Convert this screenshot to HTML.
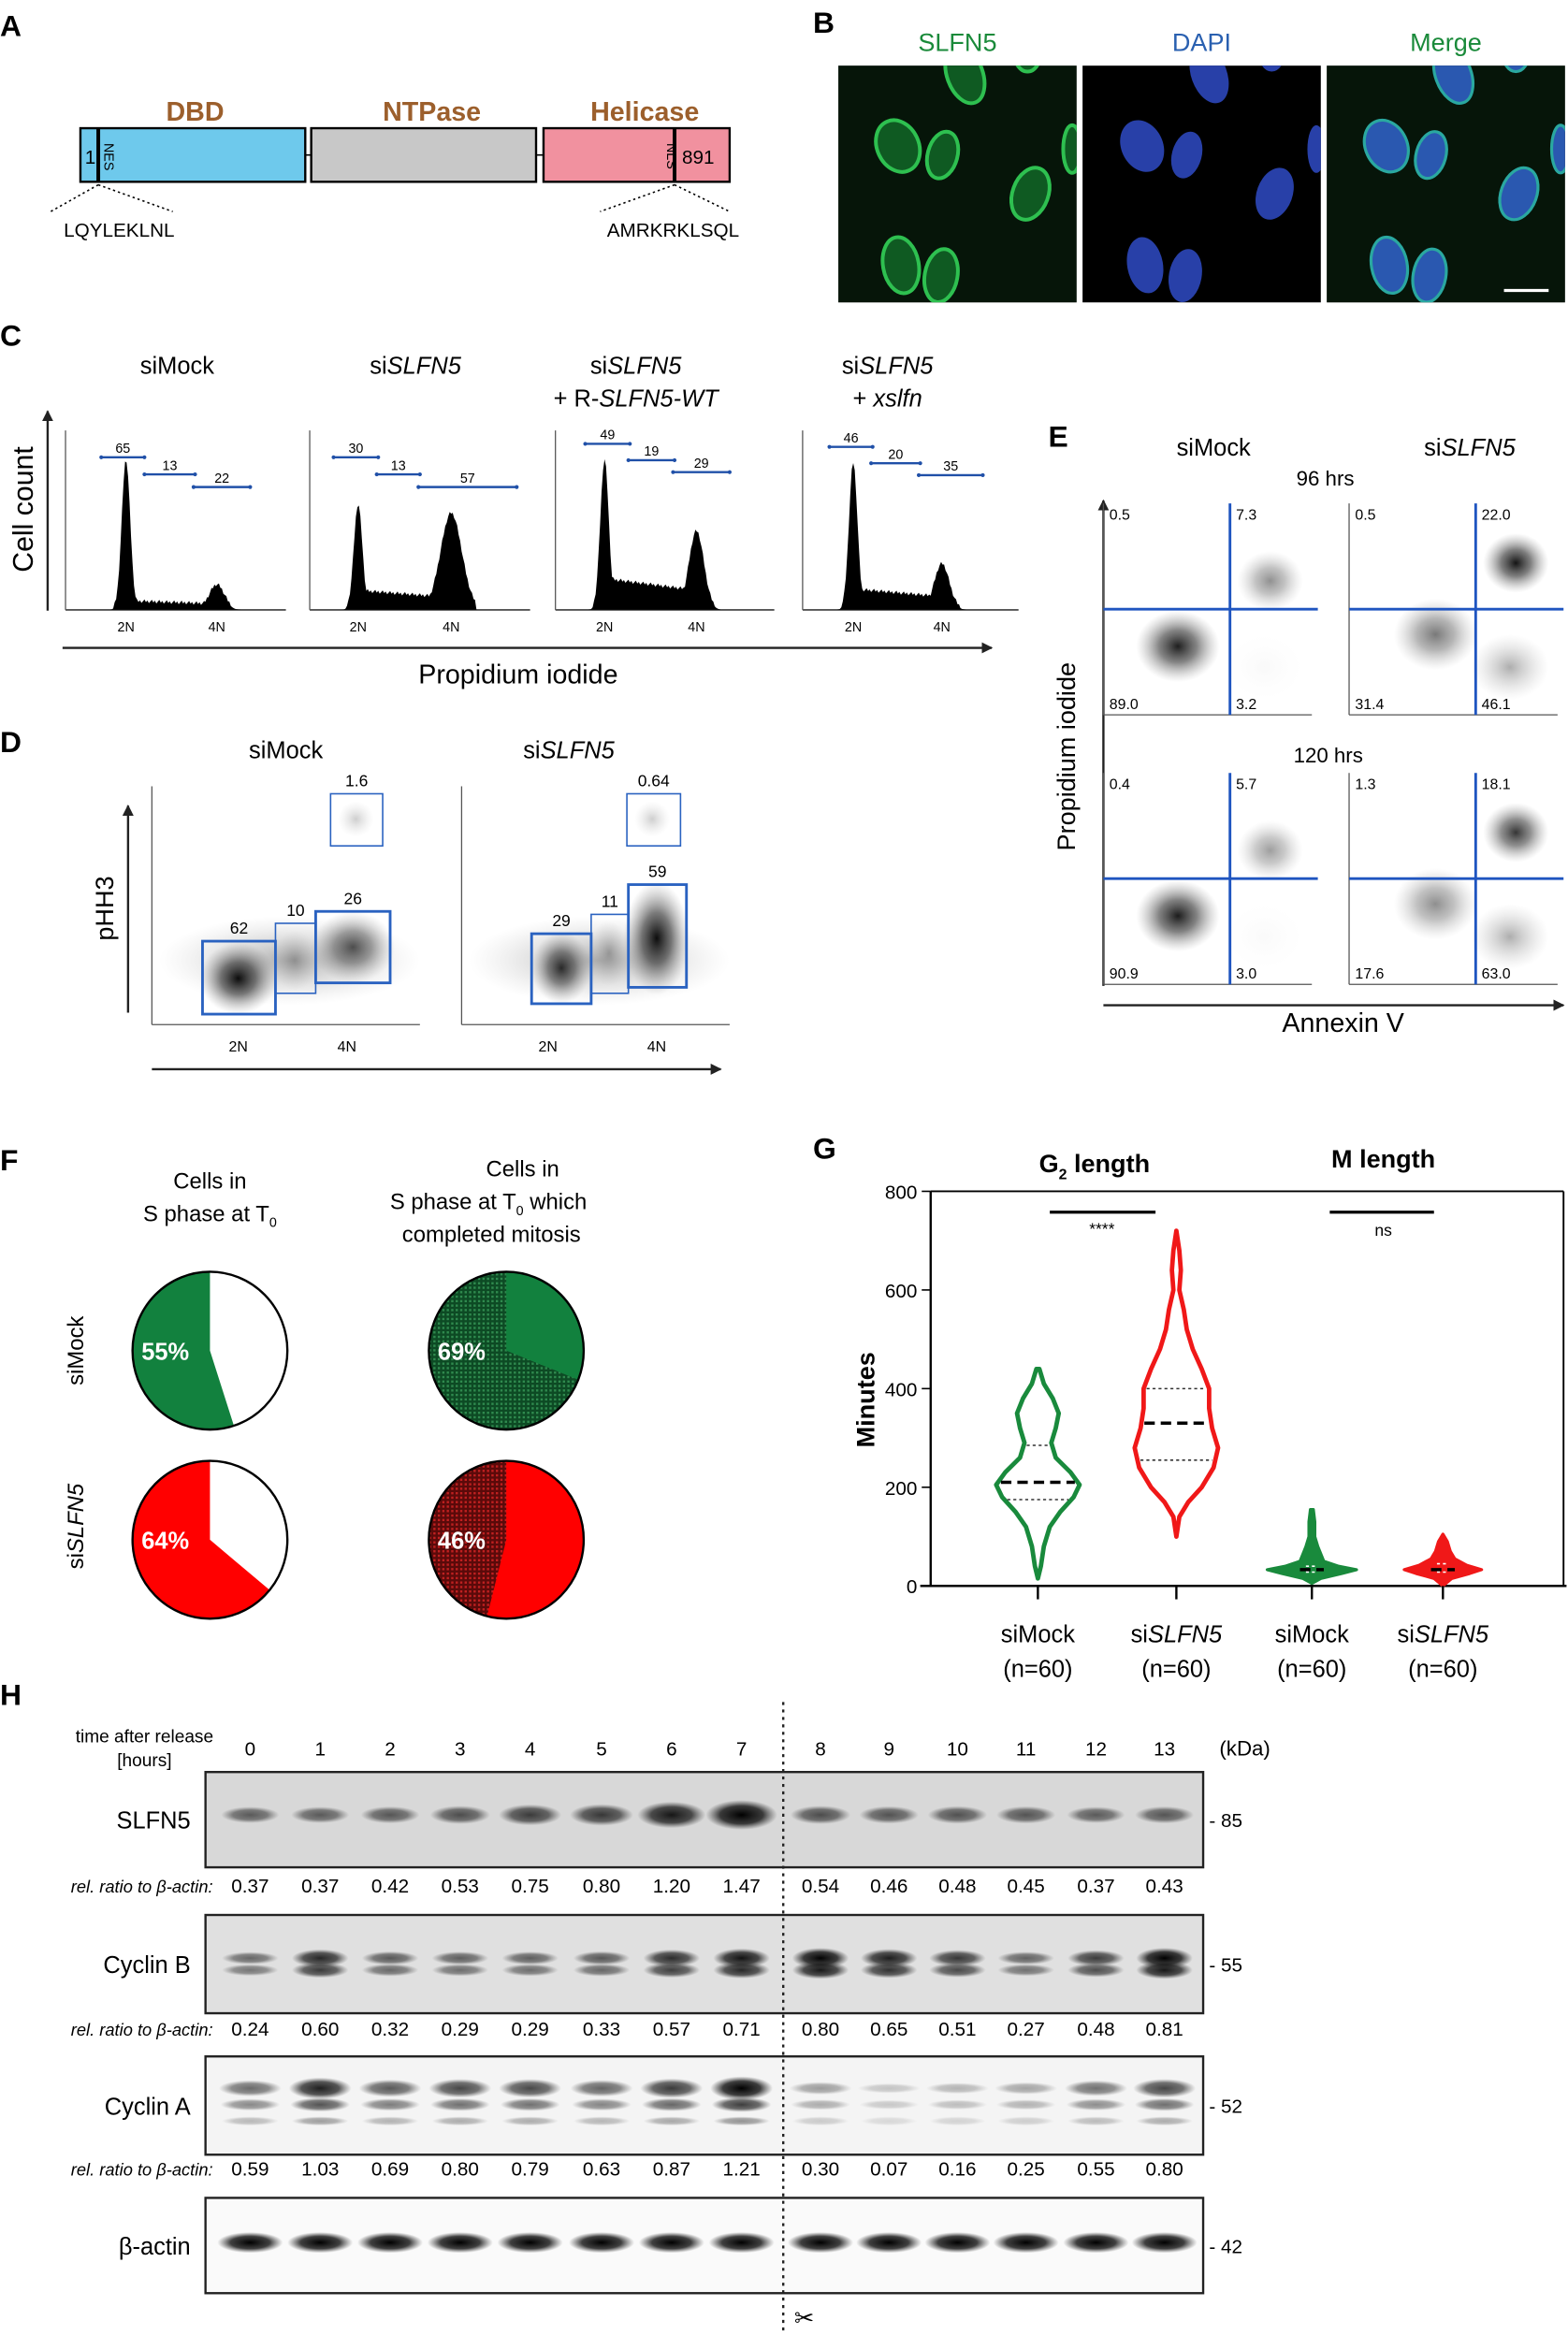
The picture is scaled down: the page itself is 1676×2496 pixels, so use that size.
<!DOCTYPE html>
<html><head><meta charset="utf-8">
<style>
html,body{margin:0;padding:0;background:#fff;}
svg{display:block;font-family:"Liberation Sans",Arial,sans-serif;}
</style></head>
<body>
<svg id="fig" width="1676" height="2496" viewBox="0 0 1053 1568" xmlns="http://www.w3.org/2000/svg">
<defs>
<radialGradient id="blob" cx="50%" cy="50%" r="50%">
<stop offset="0" stop-color="#000" stop-opacity="0.95"/>
<stop offset="0.45" stop-color="#222" stop-opacity="0.6"/>
<stop offset="1" stop-color="#888" stop-opacity="0"/>
</radialGradient>
<radialGradient id="blobLight" cx="50%" cy="50%" r="50%">
<stop offset="0" stop-color="#777" stop-opacity="0.6"/>
<stop offset="1" stop-color="#bbb" stop-opacity="0"/>
</radialGradient>
<radialGradient id="band" cx="50%" cy="50%" r="50%">
<stop offset="0" stop-color="#000" stop-opacity="1"/>
<stop offset="0.6" stop-color="#111" stop-opacity="0.8"/>
<stop offset="1" stop-color="#333" stop-opacity="0"/>
</radialGradient>
<pattern id="hatchG" width="3" height="3" patternUnits="userSpaceOnUse"><rect width="3" height="3" fill="#0d4a24"/><rect width="1.5" height="1.5" fill="#2f8a4e"/></pattern>
<pattern id="hatchR" width="3" height="3" patternUnits="userSpaceOnUse"><rect width="3" height="3" fill="#5a0a0a"/><rect width="1.5" height="1.5" fill="#c02020"/></pattern>
<marker id="arr" viewBox="0 0 10 10" refX="9" refY="5" markerWidth="5" markerHeight="5" orient="auto"><path d="M0,0L10,5L0,10z" fill="#222"/></marker>
</defs>

<!-- Panel A -->
<g>
<text x="0" y="24" font-size="20" font-weight="bold">A</text>
<text x="131" y="81" font-size="18" font-weight="bold" fill="#9c5f2c" text-anchor="middle">DBD</text>
<text x="290" y="81" font-size="18" font-weight="bold" fill="#9c5f2c" text-anchor="middle">NTPase</text>
<text x="433" y="81" font-size="18" font-weight="bold" fill="#9c5f2c" text-anchor="middle">Helicase</text>
<line x1="204" y1="104" x2="210" y2="104" stroke="#000"/><line x1="359" y1="104" x2="366" y2="104" stroke="#000"/>
<rect x="54" y="86" width="151" height="36" fill="#6ec9ec" stroke="#000" stroke-width="1.5"/>
<rect x="209" y="86" width="151" height="36" fill="#c8c8c8" stroke="#000" stroke-width="1.5"/>
<rect x="365" y="86" width="125" height="36" fill="#f1919f" stroke="#000" stroke-width="1.5"/>
<line x1="66" y1="86" x2="66" y2="122" stroke="#000" stroke-width="2.5"/>
<line x1="453" y1="86" x2="453" y2="122" stroke="#000" stroke-width="2.5"/>
<text x="57" y="110" font-size="13">1</text>
<text x="458" y="110" font-size="13">891</text>
<text transform="translate(70,96) rotate(90)" font-size="9">NES</text>
<text transform="translate(448,96) rotate(90)" font-size="9">NLS</text>
<path d="M66,124 L34,142 M66,124 L116,142 M453,124 L403,142 M453,124 L490,142" stroke="#000" stroke-dasharray="1.5,2" fill="none"/>
<text x="80" y="159" font-size="13" text-anchor="middle">LQYLEKLNL</text>
<text x="452" y="159" font-size="13" text-anchor="middle">AMRKRKLSQL</text>
</g>

<!-- Panel B -->
<g>
<text x="546" y="22" font-size="20" font-weight="bold">B</text>
<text x="643" y="34" font-size="17" fill="#1a8a3a" text-anchor="middle">SLFN5</text>
<text x="807" y="34" font-size="17" fill="#2a60b0" text-anchor="middle">DAPI</text>
<text x="971" y="34" font-size="17" fill="#1a8a3a" text-anchor="middle">Merge</text>
<g id="micro"></g>
</g>

<!-- Panel C -->
<g>
<text x="0" y="232" font-size="20" font-weight="bold">C</text>
<line x1="32" y1="410" x2="32" y2="276" stroke="#222" stroke-width="1.5" marker-end="url(#arr)"/>
<text transform="translate(22,342) rotate(-90)" font-size="19" text-anchor="middle">Cell count</text>
<line x1="42" y1="435" x2="666" y2="435" stroke="#222" stroke-width="1.5" marker-end="url(#arr)"/>
<text x="348" y="459" font-size="18" text-anchor="middle">Propidium iodide</text>
<g id="hist"></g>
</g>

<!-- Panel D -->
<g>
<text x="0" y="505" font-size="20" font-weight="bold">D</text>
<text x="192" y="509" font-size="16" text-anchor="middle">siMock</text>
<text x="382" y="509" font-size="16" text-anchor="middle">si<tspan font-style="italic">SLFN5</tspan></text>
<line x1="86" y1="680" x2="86" y2="541" stroke="#222" stroke-width="1.5" marker-end="url(#arr)"/>
<text transform="translate(76,610) rotate(-90)" font-size="17" text-anchor="middle">pHH3</text>
<line x1="102" y1="718" x2="484" y2="718" stroke="#222" stroke-width="1.5" marker-end="url(#arr)"/>
<g id="dplots"></g>
</g>

<!-- Panel E -->
<g>
<text x="704" y="300" font-size="20" font-weight="bold">E</text>
<text x="815" y="306" font-size="16" text-anchor="middle">siMock</text>
<text x="987" y="306" font-size="16" text-anchor="middle">si<tspan font-style="italic">SLFN5</tspan></text>
<text x="890" y="326" font-size="14" text-anchor="middle">96 hrs</text>
<text x="892" y="512" font-size="14" text-anchor="middle">120 hrs</text>
<line x1="741" y1="662" x2="741" y2="336" stroke="#222" stroke-width="1.5" marker-end="url(#arr)"/>
<text transform="translate(722,508) rotate(-90)" font-size="17" text-anchor="middle">Propidium iodide</text>
<line x1="741" y1="675" x2="1050" y2="675" stroke="#222" stroke-width="1.5" marker-end="url(#arr)"/>
<text x="902" y="693" font-size="18" text-anchor="middle">Annexin V</text>
<g id="eplots"></g>
</g>

<!-- Panel F -->
<g>
<text x="0" y="786" font-size="20" font-weight="bold">F</text>
<text x="141" y="798" font-size="15" text-anchor="middle">Cells in</text>
<text x="141" y="820" font-size="15" text-anchor="middle">S phase at T<tspan font-size="9" dy="4">0</tspan></text>
<text x="351" y="790" font-size="15" text-anchor="middle">Cells in</text>
<text x="328" y="812" font-size="15" text-anchor="middle">S phase at T<tspan font-size="9" dy="4">0</tspan><tspan dy="-4"> which</tspan></text>
<text x="330" y="834" font-size="15" text-anchor="middle">completed mitosis</text>
<text transform="translate(56,907) rotate(-90)" font-size="15" text-anchor="middle">siMock</text>
<text transform="translate(56,1025) rotate(-90)" font-size="15" text-anchor="middle">si<tspan font-style="italic">SLFN5</tspan></text>
<g id="pies"></g>
</g>

<!-- Panel G -->
<g>
<text x="546" y="778" font-size="20" font-weight="bold">G</text>
<text x="735" y="787" font-size="17" font-weight="bold" text-anchor="middle">G<tspan font-size="10" dy="5">2</tspan><tspan dy="-5"> length</tspan></text>
<text x="929" y="784" font-size="17" font-weight="bold" text-anchor="middle">M length</text>
<text transform="translate(587,940) rotate(-90)" font-size="17" font-weight="bold" text-anchor="middle">Minutes</text>
<g id="violin"></g>
</g>

<!-- Panel H -->
<g>
<text x="0" y="1145" font-size="20" font-weight="bold">H</text>
<text x="97" y="1170" font-size="12" text-anchor="middle">time after release</text>
<text x="97" y="1186" font-size="12" text-anchor="middle">[hours]</text>
<text x="836" y="1179" font-size="14" text-anchor="middle">(kDa)</text>
<g id="blots"></g>
<line x1="526" y1="1143" x2="526" y2="1566" stroke="#222" stroke-width="1.5" stroke-dasharray="2,3"/>
<text x="540" y="1562" font-size="16" text-anchor="middle">✂</text>
</g>
</svg>

<script>
const NS='http://www.w3.org/2000/svg';
function mk(tag,attrs,parent,txt){const e=document.createElementNS(NS,tag);for(const k in attrs)e.setAttribute(k,attrs[k]);if(txt!==undefined)e.textContent=txt;parent.appendChild(e);return e;}

// ===== Panel B microscopy (image, not data) =====
const microPanelsX=[563,727,891];
const nuclei=[[648,70,12,20,-20],[690,55,9,13,0],[603,118,14,18,-25],[633,124,10,16,15],[692,150,12,18,20],[605,198,12,19,-10],[632,205,11,18,10],[720,120,6,16,0]];
(function(){
 const g=document.getElementById('micro');
 microPanelsX.forEach((x0,pi)=>{
  const grp=mk('g',{},g);
  
  
  mk('rect',{x:x0,y:44,width:160,height:159,fill:'#000'},grp);
  const cp=mk('clipPath',{id:'cp'+pi},grp);mk('rect',{x:x0,y:44,width:160,height:159},cp);
  const inner=mk('g',{'clip-path':'url(#cp'+pi+')'},grp);
  if(pi!==1) mk('rect',{x:x0,y:44,width:160,height:159,fill:'#0b2a12',opacity:0.5},inner);
  nuclei.forEach(n=>{
   const cx=n[0]-563+x0, cy=n[1]-20;
   const t='rotate('+n[4]+' '+cx+' '+cy+')';
   if(pi===0){mk('ellipse',{cx,cy,rx:n[2],ry:n[3],fill:'#0f5a22',stroke:'#2ec050','stroke-width':2.5,transform:t},inner);}
   else if(pi===1){mk('ellipse',{cx,cy,rx:n[2],ry:n[3],fill:'#2840a8',transform:t},inner);}
   else {mk('ellipse',{cx,cy,rx:n[2],ry:n[3],fill:'#2a58b0',stroke:'#2aa8a0','stroke-width':2,transform:t},inner);}
  });
 });
 mk('line',{x1:1010,y1:195,x2:1040,y2:195,stroke:'#fff','stroke-width':2},g);
})();

// ===== Panel C histograms =====
const histTitles=['siMock','siSLFN5','siSLFN5','siSLFN5'];
const histSub=['','','+ R-SLFN5-WT','+ xslfn'];
const histG1Peak=[100,70,100,98];   // peak heights (counts, px-scaled)
const histSPlateau=[5,12,20,13];
const histG2Peak=[16,64,52,30];
const gateLabels=[[65,13,22],[30,13,57],[49,19,29],[46,20,35]];
(function(){
 const g=document.getElementById('hist');
 const base=409.5;
 const frames=[[44,192],[208,356],[373,520],[539,684]];
 const peaksX=[[84.6,145.6],[240.5,303],[406,467.7],[573,632.5]];
 const gateX=[[[68,97],[97,131],[130,168]],[[224,254],[253,282],[281,347]],[[393,423],[422,453],[452,490]],[[557,586],[585,618],[617,660]]];
 const gateY=[[307,318.5,327],[307,318.5,327],[298,309,317],[300,311,319]];
 const g2w=[7,10,7,7];
 frames.forEach((f,i)=>{
  const grp=mk('g',{},g);
  
  
  const tcx=[119,279,427,596][i];
  const t=mk('text',{x:tcx,y:251,'font-size':16,'text-anchor':'middle'},grp);
  if(i===0)t.textContent='siMock';else{t.textContent='si';mk('tspan',{'font-style':'italic'},t,'SLFN5');}
  if(i===2){const s=mk('text',{x:tcx,y:273,'font-size':16,'text-anchor':'middle'},grp,'+ R-');mk('tspan',{'font-style':'italic'},s,'SLFN5-WT');}
  if(i===3){const s=mk('text',{x:tcx,y:273,'font-size':16,'text-anchor':'middle'},grp,'+ ');mk('tspan',{'font-style':'italic'},s,'xslfn');}
  const left=f[0];
  mk('line',{x1:left,y1:289,x2:left,y2:base,stroke:'#555','stroke-width':0.8},grp);
  mk('line',{x1:left,y1:base,x2:f[1],y2:base,stroke:'#555','stroke-width':1.2},grp);
  const x2n=peaksX[i][0], x4n=peaksX[i][1];
  const xs=Math.round(x2n-14), xe=Math.round(x4n+22);
  let d='M'+xs+','+base;
  for(let x=xs;x<=xe;x+=1){
   const a=histG1Peak[i]*Math.exp(-Math.pow((x-x2n)/4,2));
   const b=histG2Peak[i]*Math.exp(-Math.pow((x-x4n)/g2w[i],2));
   const s=(x>x2n&&x<x4n)?histSPlateau[i]*(1-(x-x2n)/(x4n-x2n)*0.4):0;
   const jag=((x*7)%5)*0.6;
   let h=Math.max(a,b,s)+(Math.max(a,b,s)>2?jag:0);
   if(x>x4n+16||x<x2n-10) h=0;
   d+=' L'+x+','+(base-h).toFixed(1);
  }
  d+=' L'+xe+','+base+'Z';
  mk('path',{d,fill:'#000'},grp);
  mk('text',{x:x2n,y:424,'font-size':9,'text-anchor':'middle'},grp,'2N');
  mk('text',{x:x4n,y:424,'font-size':9,'text-anchor':'middle'},grp,'4N');
  gateLabels[i].forEach((v,k)=>{
   const y=gateY[i][k];
   const x1=gateX[i][k][0], x2=gateX[i][k][1];
   mk('line',{x1,y1:y,x2,y2:y,stroke:'#2050a8','stroke-width':1.5},grp);
   mk('circle',{cx:x1,cy:y,r:1.3,fill:'#2050a8'},grp);mk('circle',{cx:x2,cy:y,r:1.3,fill:'#2050a8'},grp);
   mk('text',{x:(x1+x2)/2,y:y-3,'font-size':9,'text-anchor':'middle'},grp,String(v));
  });
 });
})();

// ===== Panel D scatter plots =====
const dGateValues=[[62,10,26,1.6],[29,11,59,0.64]];
(function(){
 const g=document.getElementById('dplots');
 const px=[102,310];
 const boxes=[[[136,632,49,49],[185,620,27,47],[212,612,50,48],[222,533,35,35]],[[357,627,40,47],[397,614,25,53],[422,594,39,69],[421,533,36,35]]];
 px.forEach((x0,i)=>{
  const grp=mk('g',{},g);
  
  
  mk('line',{x1:x0,y1:528,x2:x0,y2:688,stroke:'#555','stroke-width':0.8},grp);
  mk('line',{x1:x0,y1:688,x2:x0+180,y2:688,stroke:'#555','stroke-width':0.8},grp);
  mk('rect',{x:x0+5,y:615,width:175,height:60,fill:'url(#blobLight)'},grp);
  const b=boxes[i];
  if(i===0){
   mk('ellipse',{cx:160,cy:657,rx:26,ry:24,fill:'url(#blob)'},grp);
   mk('ellipse',{cx:237,cy:636,rx:28,ry:24,fill:'url(#blob)',opacity:0.7},grp);
   mk('ellipse',{cx:198,cy:645,rx:16,ry:20,fill:'url(#blobLight)'},grp);
  } else {
   mk('ellipse',{cx:377,cy:650,rx:20,ry:24,fill:'url(#blob)',opacity:0.85},grp);
   mk('ellipse',{cx:441,cy:630,rx:22,ry:38,fill:'url(#blob)'},grp);
   mk('ellipse',{cx:409,cy:640,rx:14,ry:22,fill:'url(#blobLight)'},grp);
  }
  mk('ellipse',{cx:b[3][0]+17,cy:b[3][1]+17,rx:12,ry:12,fill:'url(#blobLight)',opacity:0.6},grp);
  b.forEach((r,k)=>{
   mk('rect',{x:r[0],y:r[1],width:r[2],height:r[3],fill:'none',stroke:'#2a62c0','stroke-width':k===1||k===3?1:1.8},grp);
   mk('text',{x:r[0]+r[2]/2,y:r[1]-5,'font-size':11,'text-anchor':'middle'},grp,String(dGateValues[i][k]));
  });
  mk('text',{x:x0+58,y:706,'font-size':10,'text-anchor':'middle'},grp,'2N');
  mk('text',{x:x0+131,y:706,'font-size':10,'text-anchor':'middle'},grp,'4N');
 });
})();

// ===== Panel E quadrant plots =====
const eQuadValues=[[0.5,7.3,89.0,3.2],[0.5,22.0,31.4,46.1],[0.4,5.7,90.9,3.0],[1.3,18.1,17.6,63.0]];
(function(){
 const g=document.getElementById('eplots');
 const pos=[[741,338],[906,338],[741,519],[906,519]];
 const W=140,H=142;
 pos.forEach((p,i)=>{
  const grp=mk('g',{},g);
  
  
  const [x0,y0]=p;
  mk('line',{x1:x0,y1:y0,x2:x0,y2:y0+H,stroke:'#555','stroke-width':0.8},grp);
  mk('line',{x1:x0,y1:y0+H,x2:x0+W,y2:y0+H,stroke:'#555','stroke-width':0.8},grp);
  const v=eQuadValues[i];
  const live=v[2]/100, late=v[1]/100, early=v[3]/100;
  const mainOp=0.35+live*0.65;
  mk('ellipse',{cx:x0+(i%2?58:50),cy:y0+(i%2?88:96),rx:28,ry:24,fill:'url(#blob)',opacity:mainOp},grp);
  mk('ellipse',{cx:x0+112,cy:y0+(i%2?40:52),rx:22,ry:20,fill:'url(#blob)',opacity:Math.min(1,0.2+late*3.5)},grp);
  mk('ellipse',{cx:x0+108,cy:y0+110,rx:26,ry:22,fill:'url(#blobLight)',opacity:Math.min(1,early*2.2)},grp);
  const vx=x0+85, hy=y0+71;
  mk('line',{x1:vx,y1:y0,x2:vx,y2:y0+H,stroke:'#1f55c0','stroke-width':1.8},grp);
  mk('line',{x1:x0,y1:hy,x2:x0+W+4,y2:hy,stroke:'#1f55c0','stroke-width':1.8},grp);
  mk('text',{x:x0+4,y:y0+11,'font-size':10},grp,v[0].toFixed(1));
  mk('text',{x:vx+4,y:y0+11,'font-size':10},grp,v[1].toFixed(1));
  mk('text',{x:x0+4,y:y0+H-4,'font-size':10},grp,v[2].toFixed(1));
  mk('text',{x:vx+4,y:y0+H-4,'font-size':10},grp,v[3].toFixed(1));
 });
})();

// ===== Panel F pies =====
const pieSolidPct=[55,31,64,54];
const pieLabelPct=[55,69,64,46];
const pieHatched=[false,true,false,true];
(function(){
 const g=document.getElementById('pies');
 const centers=[[141,907],[340,907],[141,1034],[340,1034]];
 const colors=['#12813e','#12813e','#ff0000','#ff0000'];
 const dirs=[-1,1,-1,1];
 centers.forEach((c,i)=>{
  const grp=mk('g',{},g);
  
  
  const [cx,cy]=c, rx=52, ry=53;
  const other=pieHatched[i]?(i===1?'url(#hatchG)':'url(#hatchR)'):'#fff';
  mk('ellipse',{cx,cy,rx,ry,fill:other},grp);
  const frac=pieSolidPct[i]/100;
  let sx=cx, sy=cy-ry, ang=frac*2*Math.PI*dirs[i];
  let ex=cx+rx*Math.sin(ang), ey=cy-ry*Math.cos(ang);
  let large=frac>0.5?1:0, sweep=dirs[i]>0?1:0;
  if(i===2){
    ang=(1-frac)*2*Math.PI; ex=cx+rx*Math.sin(ang); ey=cy-ry*Math.cos(ang);
    mk('path',{d:`M${cx},${cy} L${ex},${ey} A${rx},${ry} 0 ${large} 1 ${sx},${sy} Z`,fill:colors[i]},grp);
  } else {
    mk('path',{d:`M${cx},${cy} L${sx},${sy} A${rx},${ry} 0 ${large} ${sweep} ${ex},${ey} Z`,fill:colors[i]},grp);
  }
  mk('ellipse',{cx,cy,rx,ry,fill:'none',stroke:'#000','stroke-width':1.5},grp);
  mk('text',{x:cx-30,y:cy+6,'font-size':16,'font-weight':'bold',fill:'#fff','text-anchor':'middle'},grp,pieLabelPct[i]+'%');
 });
})();

// ===== Panel G violins =====
const violinCats=['siMock','siSLFN5','siMock','siSLFN5'];
const violinMedian=[210,330,33,33];
const violinQ1=[175,255,28,28];
const violinQ3=[285,400,40,45];
const violinProfile0=[[15,0],[40,2],[80,4],[120,8],[150,15],[180,24],[205,28],[230,22],[260,12],[290,9],[320,12],[350,14],[380,10],[410,4],[440,1]];
const violinProfile1=[[100,0],[140,2],[170,8],[200,17],[240,25],[280,28],[320,24],[360,22],[400,22],[440,17],[480,11],[520,7],[560,5],[600,2],[640,3],[680,2],[720,0]];
const violinProfile2=[[5,0],[15,6],[25,20],[33,30],[40,18],[50,8],[65,6],[80,4],[100,2],[130,2],[155,1]];
const violinProfile3=[[0,0],[15,6],[25,18],[33,26],[42,16],[55,8],[70,5],[90,3],[105,0]];
const yTicks=[0,200,400,600,800];
(function(){
 const g=document.getElementById('violin');
 const y=v=>1065-v*(265/800);
 const catX=[697,790,881,969];
 const ax=mk('g',{},g);
 
 
 mk('line',{x1:625,y1:y(0),x2:625,y2:y(800),stroke:'#000','stroke-width':1.5},ax);
 mk('line',{x1:625,y1:y(800),x2:1050,y2:y(800),stroke:'#000','stroke-width':1.2},ax);
 mk('line',{x1:1050,y1:y(800),x2:1050,y2:y(0),stroke:'#000','stroke-width':1.2},ax);
 mk('line',{x1:618,y1:y(0),x2:1052,y2:y(0),stroke:'#000','stroke-width':1.5},ax);
 yTicks.forEach(t=>{mk('line',{x1:619,y1:y(t),x2:625,y2:y(t),stroke:'#000'},ax);
  mk('text',{x:616,y:y(t)+5,'font-size':13,'text-anchor':'end'},ax,String(t));});
 const profs=[violinProfile0,violinProfile1,violinProfile2,violinProfile3];
 const cols=['#198a3c','#f01818','#198a3c','#f01818'];
 profs.forEach((pr,i)=>{
  const grp=mk('g',{},g);
  
  
  const cx=catX[i];
  let d='';
  pr.forEach((p,k)=>{d+=(k?' L':'M')+(cx+p[1])+','+y(p[0]).toFixed(1);});
  for(let k=pr.length-1;k>=0;k--)d+=' L'+(cx-pr[k][1])+','+y(pr[k][0]).toFixed(1);
  d+='Z';
  const isM=i>=2;
  mk('path',{d,fill:isM?cols[i]:'none',stroke:cols[i],'stroke-width':isM?2:3,'stroke-linejoin':'round'},grp);
  const wAt=v=>{for(let k=1;k<pr.length;k++){if(pr[k][0]>=v){const a=pr[k-1],b=pr[k];return a[1]+(b[1]-a[1])*(v-a[0])/(b[0]-a[0]);}}return 0;};
  const mw=isM?8:wAt(violinMedian[i])-2;
  mk('line',{x1:cx-mw,y1:y(violinMedian[i]),x2:cx+mw,y2:y(violinMedian[i]),stroke:'#000','stroke-width':2.2,'stroke-dasharray':'7,4'},grp);
  [violinQ1[i],violinQ3[i]].forEach(q=>{const qw=isM?4:wAt(q)-2;
   mk('line',{x1:cx-qw,y1:y(q),x2:cx+qw,y2:y(q),stroke:isM?'#fff':'#333','stroke-width':1,'stroke-dasharray':'2,2'},grp);});
  mk('line',{x1:cx,y1:y(0),x2:cx,y2:y(0)+9,stroke:'#000','stroke-width':1.5},grp);
  const t=mk('text',{x:cx,y:1103,'font-size':16,'text-anchor':'middle'},grp);
  if(violinCats[i]==='siMock')t.textContent='siMock';else{t.textContent='si';mk('tspan',{'font-style':'italic'},t,'SLFN5');}
  mk('text',{x:cx,y:1126,'font-size':16,'text-anchor':'middle'},grp,'(n=60)');
 });
 mk('line',{x1:705,y1:814,x2:776,y2:814,stroke:'#000','stroke-width':2},g);
 mk('text',{x:740,y:829,'font-size':11,'text-anchor':'middle'},g,'****');
 mk('line',{x1:893,y1:814,x2:963,y2:814,stroke:'#000','stroke-width':2},g);
 mk('text',{x:929,y:830,'font-size':11,'text-anchor':'middle'},g,'ns');
})();

// ===== Panel H western blots =====
const lanes=['0','1','2','3','4','5','6','7','8','9','10','11','12','13'];
const slfn5Ratio=[0.37,0.37,0.42,0.53,0.75,0.80,1.20,1.47,0.54,0.46,0.48,0.45,0.37,0.43];
const cyclinBRatio=[0.24,0.60,0.32,0.29,0.29,0.33,0.57,0.71,0.80,0.65,0.51,0.27,0.48,0.81];
const cyclinARatio=[0.59,1.03,0.69,0.80,0.79,0.63,0.87,1.21,0.30,0.07,0.16,0.25,0.55,0.80];
const actinRatio=[1,1,1,1,1,1,1,1,1,1,1,1,1,1];
(function(){
 const g=document.getElementById('blots');
 const laneX=[168,215,262,309,356,404,451,498,551,597,643,689,736,782];
 lanes.forEach((l,i)=>{mk('text',{x:laneX[i],y:1179,'font-size':13,'text-anchor':'middle'},g,l);});
 const rows=[
  {name:'SLFN5',y:1190,h:64,bg:'#d8d8d8',data:slfn5Ratio,kda:'85',ry:1271,bandY:0.45,max:1.47},
  {name:'Cyclin B',y:1286,h:66,bg:'#e0e0e0',data:cyclinBRatio,kda:'55',ry:1367,bandY:0.5,max:0.81},
  {name:'Cyclin A',y:1381,h:66,bg:'#f4f4f4',data:cyclinARatio,kda:'52',ry:1461,bandY:0.4,max:1.21},
  {name:'β-actin',y:1476,h:64,bg:'#fafafa',data:actinRatio,kda:'42',ry:null,bandY:0.5,max:1}
 ];
 rows.forEach((r,ri)=>{
  const grp=mk('g',{},g);
  
  
  mk('rect',{x:138,y:r.y,width:670,height:r.h,fill:r.bg},grp);
  mk('text',{x:128,y:r.y+r.h/2+6,'font-size':16,'text-anchor':'end'},grp,r.name);
  r.data.forEach((v,i)=>{
   const cx=laneX[i], cy=r.y+r.h*r.bandY;
   const s=Math.min(1,v/r.max);
   if(ri===3){mk('ellipse',{cx,cy:r.y+30,rx:22,ry:7,fill:'url(#band)'},grp);return;}
   if(ri===0){mk('ellipse',{cx,cy,rx:18+s*6,ry:4+s*6,fill:'url(#band)',opacity:0.45+0.55*s},grp);}
   if(ri===1){
    mk('ellipse',{cx,cy:cy-4,rx:19,ry:3+s*4,fill:'url(#band)',opacity:0.35+0.65*s},grp);
    mk('ellipse',{cx,cy:cy+4,rx:19,ry:3+s*3,fill:'url(#band)',opacity:0.3+0.6*s},grp);
   }
   if(ri===2){
    mk('ellipse',{cx,cy:cy-5,rx:21,ry:3+s*5,fill:'url(#band)',opacity:0.15+0.85*s},grp);
    mk('ellipse',{cx,cy:cy+6,rx:20,ry:3+s*2,fill:'url(#band)',opacity:0.15+0.6*s},grp);
    mk('ellipse',{cx,cy:cy+17,rx:19,ry:3,fill:'url(#band)',opacity:0.1+0.3*s},grp);
   }
  });
  mk('rect',{x:138,y:r.y,width:670,height:r.h,fill:'none',stroke:'#222','stroke-width':1.5},grp);
  mk('text',{x:812,y:r.y+r.h/2+5,'font-size':13},grp,'- '+r.kda);
  if(r.ry){
   mk('text',{x:143,y:r.ry,'font-size':11.5,'font-style':'italic','text-anchor':'end'},grp,'rel. ratio to β-actin:');
   r.data.forEach((v,i)=>{mk('text',{x:laneX[i],y:r.ry,'font-size':13,'text-anchor':'middle'},grp,v.toFixed(2));});
  }
 });
})();
</script>
</body></html>
